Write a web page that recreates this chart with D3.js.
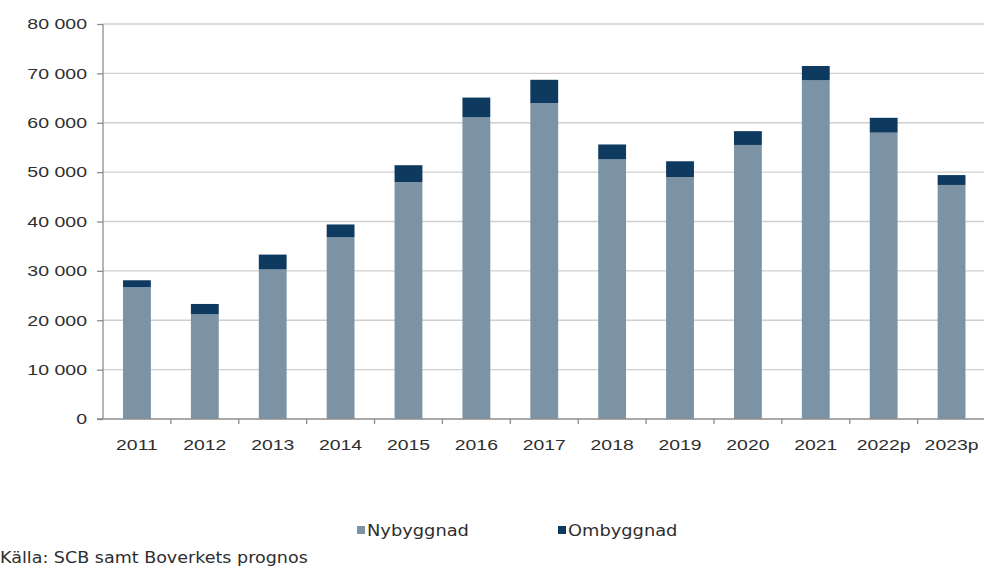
<!DOCTYPE html>
<html>
<head>
<meta charset="utf-8">
<script src="https://cdn.jsdelivr.net/npm/d3@7"></script>
<style>
  html, body { margin: 0; padding: 0; background: #fff; }
  svg { display: block; }
</style>
</head>
<body>
<svg id="chart" width="984" height="569"></svg>
<script>
const categories = ["2011","2012","2013","2014","2015","2016","2017","2018","2019","2020","2021","2022p","2023p"];
const nybyggnad = [26700, 21200, 30300, 36800, 48000, 61100, 64000, 52600, 49000, 55500, 68600, 58000, 47400];
const ombyggnad = [1400, 2100, 3000, 2600, 3400, 4000, 4700, 3000, 3200, 2800, 2900, 3000, 2000];
const seriesNames = ["Nybyggnad", "Ombyggnad"];
const yTicks = [0, 10000, 20000, 30000, 40000, 50000, 60000, 70000, 80000];
const sourceText = "Källa: SCB samt Boverkets prognos";

const colors = { Nybyggnad: "#7b93a5", Ombyggnad: "#0d3a5e" };
const textColor = "#2e2e2e";

const svg = d3.select("#chart");
const mLeft = 103, mRight = 985.5, mTop = 24, mBottom = 419;

const x = d3.scaleBand().domain(categories).range([mLeft, mRight]).paddingInner(0.59).paddingOuter(0.295);
const y = d3.scaleLinear().domain([0, 80000]).range([mBottom, mTop]);

const fmt = v => d3.format(",")(v).replace(/,/g, " ");

function stretch(sel, factor) {
  sel.each(function() {
    const w = this.getComputedTextLength();
    this.setAttribute("textLength", w * factor);
    this.setAttribute("lengthAdjust", "spacingAndGlyphs");
  });
}

// gridlines
svg.append("g").selectAll("line").data(yTicks.filter(d => d > 0)).join("line")
  .attr("x1", mLeft).attr("x2", 984)
  .attr("y1", d => y(d)).attr("y2", d => y(d))
  .attr("stroke", "#cfcfcf").attr("stroke-width", 1.3);

// stacked bars
const rows = categories.map((c, i) => ({ cat: c, Nybyggnad: nybyggnad[i], Ombyggnad: ombyggnad[i] }));
const stack = d3.stack().keys(seriesNames)(rows);
svg.append("g").selectAll("g").data(stack).join("g")
  .attr("fill", d => colors[d.key])
  .selectAll("rect").data(d => d).join("rect")
  .attr("x", d => x(d.data.cat))
  .attr("width", x.bandwidth())
  .attr("y", d => y(d[1]))
  .attr("height", d => y(d[0]) - y(d[1]));

// y axis
const yAxis = d3.axisLeft(y).tickValues(yTicks).tickFormat(fmt).tickSize(6).tickPadding(10);
const gy = svg.append("g").attr("transform", `translate(${mLeft},0)`).call(yAxis);
gy.select(".domain").attr("stroke", "#8c8c8c").attr("stroke-width", 1.3).attr("d", `M0,${mTop}V${mBottom}`);
gy.selectAll(".tick line").attr("stroke", "#8c8c8c").attr("stroke-width", 1.3);
gy.selectAll(".tick text")
  .attr("font-family", "'Liberation Sans', Arial, sans-serif")
  .attr("font-size", 15).attr("fill", textColor);
stretch(gy.selectAll(".tick text"), 1.3);

// x axis
const gx = svg.append("g").attr("transform", `translate(0,${mBottom})`);
gx.append("line").attr("x1", mLeft - 6).attr("x2", 984).attr("y1", 0).attr("y2", 0)
  .attr("stroke", "#8c8c8c").attr("stroke-width", 1.3);
const step = x.step();
const bounds = categories.slice(1).map(c => x(c) - (step - x.bandwidth()) / 2);
gx.selectAll("line.tk").data(bounds).join("line").attr("class", "tk")
  .attr("x1", d => d).attr("x2", d => d).attr("y1", 0).attr("y2", 5)
  .attr("stroke", "#8c8c8c").attr("stroke-width", 1.3);
const xl = gx.selectAll("text").data(categories).join("text")
  .attr("x", d => x(d) + x.bandwidth() / 2).attr("y", 31)
  .attr("text-anchor", "middle")
  .attr("font-family", "'Liberation Sans', Arial, sans-serif")
  .attr("font-size", 15.5).attr("fill", textColor)
  .text(d => d);
stretch(xl, 1.25);

// legend
const legendX = [357, 558];
const lg = svg.append("g");
seriesNames.forEach((s, i) => {
  lg.append("rect").attr("x", legendX[i]).attr("y", 526).attr("width", 8).attr("height", 8).attr("fill", colors[s]);
  const t = lg.append("text").attr("x", legendX[i] + 10).attr("y", 536)
    .attr("font-family", "'DejaVu Sans', Verdana, sans-serif")
    .attr("font-size", 15.5).attr("fill", textColor).text(s);
  stretch(t, 1.15);
});

// source
const src = svg.append("text").attr("x", 0).attr("y", 563)
  .attr("font-family", "'DejaVu Sans', Verdana, sans-serif")
  .attr("font-size", 15.5).attr("fill", textColor).text(sourceText);
stretch(src, 1.13);
</script>
</body>
</html>
